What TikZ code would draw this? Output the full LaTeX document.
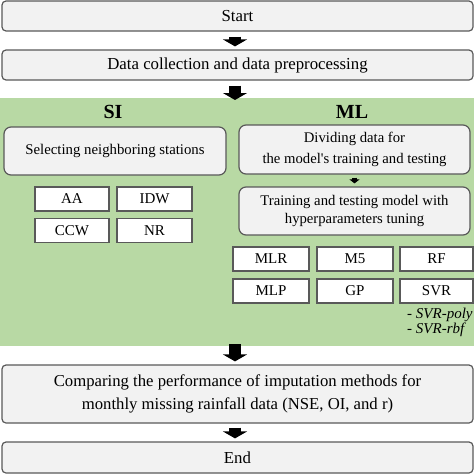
\documentclass[tikz,border=0pt]{standalone}
\usepackage{fontspec}
\setmainfont{Liberation Serif}
\newfontfamily\aposfont{Liberation Serif}
\usetikzlibrary{arrows.meta}
\definecolor{boxfill}{HTML}{F2F2F2}
\definecolor{boxline}{HTML}{595959}
\definecolor{greenbg}{HTML}{B8D9A4}
\begin{document}
\begin{tikzpicture}[x=1pt,y=-1pt,
  mainbox/.style={draw=boxline, line width=1.2pt, fill=boxfill, rounded corners=4pt, align=center, inner sep=0pt, font=\fontsize{16.8}{20}\selectfont},
  subbox/.style={draw=boxline, line width=1.2pt, fill=boxfill, rounded corners=7pt, align=center, inner sep=0pt, font=\fontsize{14.8}{19}\selectfont},
  method/.style={draw=boxline, line width=1.3pt, fill=white, inner sep=0pt, minimum height=24pt, font=\fontsize{15}{16}\selectfont},
  bigarrow/.style={line width=12pt, -{Triangle[width=24pt,length=7pt]}},
  smallarrow/.style={line width=5pt, -{Triangle[width=10pt,length=4pt]}},
  head/.style={font=\fontsize{20}{22}\selectfont\bfseries}]
\useasboundingbox (0,0) rectangle (474,474);
\fill[greenbg] (0,98) rectangle (474,346);
\node[mainbox, minimum width=471pt, minimum height=30pt] (start) at (237.5,16) {Start};
\node[mainbox, minimum width=471pt, minimum height=30pt] (data) at (237.5,65) {Data collection and data preprocessing};
\node[head] (si) at (113,112) {SI};
\node[head] (ml) at (352,112) {ML};
\node[subbox, minimum width=222pt, minimum height=48pt] (sel) at (115,151) {Selecting neighboring stations};
\node[method, minimum width=74pt] (aa) at (72,199) {AA};
\node[method, minimum width=75pt] (idw) at (154.5,199) {IDW};
\node[method, minimum width=74pt] (ccw) at (72,230.5) {CCW};
\node[method, minimum width=75pt] (nr) at (154.5,230.5) {NR};
\node[subbox, minimum width=231pt, minimum height=49pt, font=\fontsize{14.7}{21}\selectfont] (div) at (354.5,149.5) {Dividing data for\\the model{\aposfont'}s training and testing};
\node[subbox, minimum width=231pt, minimum height=48pt, font=\fontsize{14.7}{17.5}\selectfont] (train) at (354.5,211) {Training and testing model with\\hyperparameters tuning};
\node[method, minimum width=76pt] (mlr) at (271,259) {MLR};
\node[method, minimum width=76pt] (m5) at (355,259) {M5};
\node[method, minimum width=73pt] (rf) at (436.5,259) {RF};
\node[method, minimum width=76pt] (mlp) at (271,291) {MLP};
\node[method, minimum width=76pt] (gp) at (355,291) {GP};
\node[method, minimum width=73pt] (svr) at (436.5,291) {SVR};
\node[anchor=north west, align=left, inner sep=0pt, font=\fontsize{15}{12.5}\selectfont\itshape] (svrlist) at (407,308) {- SVR-poly\\- SVR-rbf};
\node[mainbox, minimum width=471pt, minimum height=58pt, font=\fontsize{16.7}{23}\selectfont] (comp) at (237.5,394) {Comparing the performance of imputation methods for\\monthly missing rainfall data (NSE, OI, and r)};
\node[mainbox, minimum width=471pt, minimum height=31pt] (end) at (237.5,457.5) {End};
\coordinate (gtop) at (235,98);
\coordinate (gbot) at (235,346);
\draw[bigarrow] ([xshift=-2.5pt,yshift=-5pt]start.south) -- ([xshift=-2.5pt,yshift=3pt]data.north);
\draw[bigarrow] ([xshift=-2.5pt,yshift=-5pt]data.south) -- ([yshift=-2pt]gtop);
\draw[bigarrow] ([yshift=2pt]gbot) -- ([xshift=-2.5pt,yshift=3pt]comp.north);
\draw[bigarrow] ([xshift=-2.5pt,yshift=-4pt]comp.south) -- ([xshift=-2.5pt,yshift=3pt]end.north);
\draw[smallarrow] ([yshift=-3pt]div.south) -- ([yshift=3pt]train.north);
\end{tikzpicture}
\end{document}
